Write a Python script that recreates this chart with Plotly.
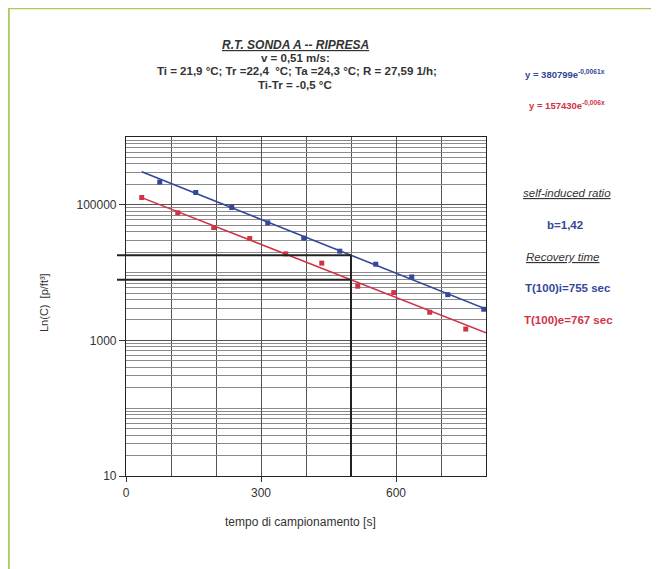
import numpy as np
import plotly.graph_objects as go

# ---- data ----
blue_x = [75, 155, 235, 315, 395, 475, 555, 635, 715, 795]
blue_y = [216000, 152000, 91200, 54200, 32200, 20700, 13300, 8630, 4730, 2880]
red_x = [35, 115, 195, 275, 355, 435, 515, 595, 675, 755]
red_y = [128000, 76200, 46200, 31800, 18900, 13800, 6300, 5070, 2600, 1470]

blue_A, blue_k = 380799, -0.0061
red_A, red_k = 157430, -0.006
fit_x = [35, 800]
ref_x = 500

x_ticks = [0, 300, 600]
y_ticks = [10, 1000, 100000]
y_ticktext = ["10", "1000", "100000"]

BLUE = "#34479a"
RED = "#cf3346"
TXT = "#333333"
FONT = "Arial, Liberation Sans, sans-serif"

fig = go.Figure()

fx = np.linspace(fit_x[0], fit_x[1], 20)
fig.add_trace(go.Scatter(x=fx, y=blue_A * np.exp(blue_k * fx), mode="lines",
                         line=dict(color=BLUE, width=1.6), hoverinfo="skip", showlegend=False))
fig.add_trace(go.Scatter(x=fx, y=red_A * np.exp(red_k * fx), mode="lines",
                         line=dict(color=RED, width=1.6), hoverinfo="skip", showlegend=False))
fig.add_trace(go.Scatter(x=blue_x, y=blue_y, mode="markers",
                         marker=dict(symbol="square", size=5, color=BLUE), showlegend=False))
fig.add_trace(go.Scatter(x=red_x, y=red_y, mode="markers",
                         marker=dict(symbol="square", size=5, color=RED), showlegend=False))

xmax = 800
yb = blue_A * np.exp(blue_k * ref_x)
yr = red_A * np.exp(red_k * ref_x)
for yv in (yb, yr):
    fig.add_shape(type="line", xref="paper", yref="y", x0=-0.025, x1=ref_x / xmax,
                  y0=yv, y1=yv, line=dict(color="#222222", width=2))
fig.add_shape(type="line", xref="x", yref="y", x0=ref_x, x1=ref_x, y0=yb, y1=10,
              line=dict(color="#222222", width=2))

W, H = 659, 569
OFF = 8  # page body margin
L, R, T, B = 126 - OFF, 486 - OFF, 137 - OFF, 476 - OFF


def px(xs):
    return (xs - OFF - L) / (R - L)


def py(ys):
    return (B - (ys - OFF)) / (B - T)


anns = [
    (295, 45, "<b><i><u>R.T. SONDA A -- RIPRESA</u></i></b>", TXT, 12),
    (295, 58, "<b>v = 0,51 m/s:</b>", TXT, 11.5),
    (297, 71, "<b>Ti = 21,9 °C; Tr =22,4  °C; Ta =24,3 °C; R = 27,59 1/h;</b>", TXT, 11.5),
    (295, 85, "<b>Ti-Tr = -0,5 °C</b>", TXT, 11.5),
    (565, 74, "<b>y = 380799e<sup>-0,0061x</sup></b>", BLUE, 9.5),
    (567, 105, "<b>y = 157430e<sup>-0,006x</sup></b>", RED, 9.5),
    (567, 193, "<i><u>self-induced ratio</u></i>", TXT, 11.5),
    (565, 225, "<b>b=1,42</b>", BLUE, 11.5),
    (563, 257, "<i><u>Recovery time</u></i>", TXT, 11.5),
    (568, 288, "<b>T(100)i=755 sec</b>", BLUE, 11.5),
    (568, 320, "<b>T(100)e=767 sec</b>", RED, 11.5),
    (300, 522, "tempo di campionamento [s]", TXT, 12),
]
for x0, y0, t, c, s in anns:
    fig.add_annotation(x=px(x0), y=py(y0), xref="paper", yref="paper", text=t,
                       showarrow=False, font=dict(family=FONT, size=s, color=c),
                       xanchor="center", yanchor="middle")
fig.add_annotation(x=px(44), y=py(303), xref="paper", yref="paper",
                   text="Ln(C)  [p/ft³]", textangle=-90, showarrow=False,
                   font=dict(family=FONT, size=11, color=TXT),
                   xanchor="center", yanchor="middle")

# green frame
fig.add_shape(type="line", xref="paper", yref="paper", x0=px(7), x1=px(667), y0=py(8), y1=py(8),
              line=dict(color="#a7cb5d", width=2.5))
fig.add_shape(type="line", xref="paper", yref="paper", x0=px(8.5), x1=px(8.5), y0=py(7), y1=py(577),
              line=dict(color="#a7cb5d", width=2.5))

fig.update_layout(
    width=W, height=H,
    margin=dict(l=L, r=W - R, t=T, b=H - B, pad=0),
    paper_bgcolor="white", plot_bgcolor="white",
    font=dict(family=FONT, color=TXT, size=12),
    xaxis=dict(range=[0, xmax], tickvals=x_ticks, ticks="outside", ticklen=5,
               tickcolor="#333", showgrid=True, gridcolor="#555555", gridwidth=1,
               minor=dict(dtick=100, showgrid=True, gridcolor="#555555", gridwidth=1, ticks=""),
               showline=True, linecolor="#222", linewidth=1.2, mirror=True,
               zeroline=False, tickfont=dict(size=12, color=TXT)),
    yaxis=dict(type="log", range=[1, 6], tickvals=y_ticks, ticktext=y_ticktext,
               ticks="outside", ticklen=6, tickcolor="#333",
               showgrid=True, gridcolor="#555555", gridwidth=1,
               minor=dict(dtick="D1", showgrid=True, gridcolor="#8a8a8a", gridwidth=1, ticks=""),
               showline=True, linecolor="#222", linewidth=1.2, mirror=True,
               zeroline=False, tickfont=dict(size=12, color=TXT)),
)

fig.write_html("out.html")
